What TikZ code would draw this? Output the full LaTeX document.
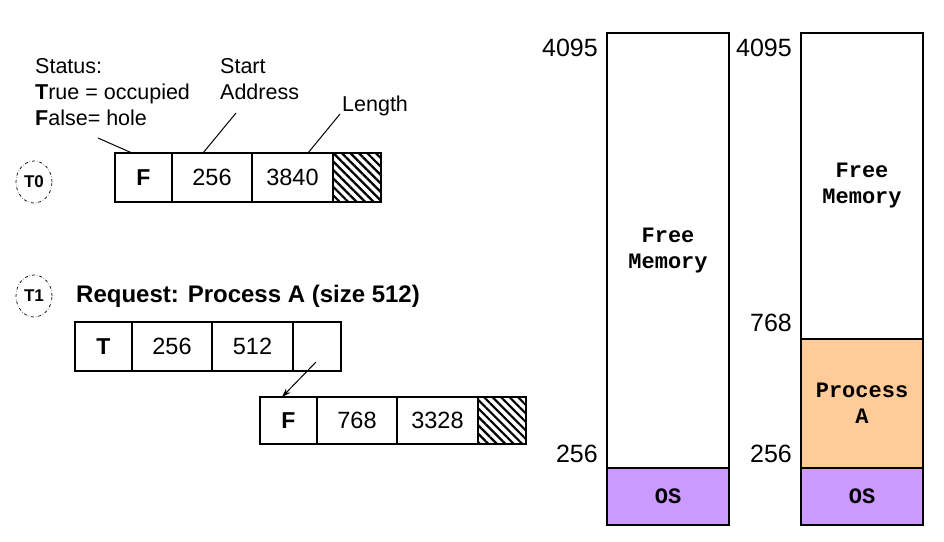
\documentclass[tikz,border=0pt]{standalone}
\usepackage{fontspec}
\setmainfont{Liberation Sans}
\setmonofont{Liberation Mono}
\usepackage{tikz}
\usetikzlibrary{shapes.geometric}
\usetikzlibrary{patterns.meta}
\usetikzlibrary{arrows.meta}
\pgfdeclarelayer{edgelayer}
\pgfdeclarelayer{nodelayer}
\pgfsetlayers{edgelayer,nodelayer,main}
\definecolor{OsPurple}{HTML}{CC99FF}
\definecolor{ProcOrange}{HTML}{FFCC99}
\tikzstyle{none}=[inner sep=0pt]
\tikzstyle{cell}=[rectangle,draw=black,line width=1.2pt,inner sep=0pt,minimum height=49pt,font=\fontsize{23.5}{26}\selectfont]
\tikzstyle{flag}=[cell,minimum width=57pt,font=\fontsize{23}{26}\selectfont\bfseries]
\tikzstyle{addr}=[cell,minimum width=80pt]
\tikzstyle{len}=[cell,minimum width=81pt]
\tikzstyle{ptr}=[cell,minimum width=48pt]
\tikzstyle{hatch}=[cell,minimum width=48pt,pattern={Lines[angle=-45,distance=6pt,line width=2.2pt]}]
\tikzstyle{tmark}=[ellipse,draw=black,dash dot,line width=0.7pt,minimum width=36pt,minimum height=42pt,inner sep=0pt,font=\fontsize{17}{18}\selectfont\bfseries]
\tikzstyle{lbl}=[inner sep=0pt,align=left,anchor=west,font=\fontsize{21.5}{26}\selectfont]
\tikzstyle{addrlbl}=[inner sep=0pt,anchor=east,font=\fontsize{25}{26}\selectfont]
\tikzstyle{mem}=[rectangle,draw=black,line width=1.2pt,inner sep=0pt,minimum width=122pt,align=center,font=\fontsize{22}{26}\selectfont\ttfamily\bfseries]
\tikzstyle{simple}=[-,draw=black,line width=1pt]
\tikzstyle{arrow}=[-{Stealth[length=9pt,width=6pt]},draw=black,line width=1pt]

\begin{document}
\begin{tikzpicture}[x=1pt,y=-1pt]
	\useasboundingbox (0,0) rectangle (944,541);
	\begin{pgfonlayer}{nodelayer}
		% T0
		\node [style=tmark] (0) at (34,182) {T0};
		\node [style=flag] (1) at (143.5,177.5) {F};
		\node [style=addr] (2) at (212,177.5) {256};
		\node [style=len] (3) at (292.5,177.5) {3840};
		\node [style=hatch] (4) at (357,177.5) {};
		\node [style=lbl] (5) at (35,92) {Status:\\\textbf{T}rue = occupied\\\textbf{F}alse= hole};
		\node [style=lbl] (6) at (220,79) {Start\\Address};
		\node [style=lbl] (7) at (342,106) {Length};
		\node [style=none] (8) at (98,138) {};
		\node [style=none] (9) at (132,153) {};
		\node [style=none] (10) at (236,113) {};
		\node [style=none] (11) at (203,153) {};
		\node [style=none] (12) at (340,114) {};
		\node [style=none] (13) at (308,153) {};
		% T1
		\node [style=tmark] (14) at (34,296) {T1};
		\node [style=lbl,font=\fontsize{24}{26}\selectfont\bfseries] (15) at (76,296) {Request: Process A (size 512)};
		\node [style=flag] (16) at (103.5,346.5) {T};
		\node [style=addr] (17) at (172,346.5) {256};
		\node [style=len] (18) at (252.5,346.5) {512};
		\node [style=ptr] (19) at (317,346.5) {};
		\node [style=flag,minimum height=47pt] (20) at (288.5,420.5) {F};
		\node [style=addr,minimum height=47pt] (21) at (357,420.5) {768};
		\node [style=len,minimum height=47pt] (22) at (437.5,420.5) {3328};
		\node [style=hatch,minimum height=47pt] (23) at (502,420.5) {};
		\node [style=none] (24) at (316,362) {};
		\node [style=none] (25) at (282,397) {};
		% memory
		\node [style=mem,minimum height=435pt] (26) at (668,250.5) {Free\\Memory};
		\node [style=mem,minimum height=57pt,fill=OsPurple] (27) at (668,496.5) {OS};
		\node [style=mem,minimum height=306pt] (28) at (862,186) {Free\\Memory};
		\node [style=mem,minimum height=129pt,fill=ProcOrange] (29) at (862,403.5) {Process\\A};
		\node [style=mem,minimum height=57pt,fill=OsPurple] (30) at (862,496.5) {OS};
		\node [style=addrlbl] (31) at (598,48) {4095};
		\node [style=addrlbl] (32) at (598,454) {256};
		\node [style=addrlbl] (33) at (792,48) {4095};
		\node [style=addrlbl] (34) at (792,323) {768};
		\node [style=addrlbl] (35) at (792,454) {256};
	\end{pgfonlayer}
	\begin{pgfonlayer}{edgelayer}
		\draw [style=simple] (8.center) to (9.center);
		\draw [style=simple] (10.center) to (11.center);
		\draw [style=simple] (12.center) to (13.center);
		\draw [style=arrow] (24.center) to (25.center);
	\end{pgfonlayer}
\end{tikzpicture}
\end{document}
